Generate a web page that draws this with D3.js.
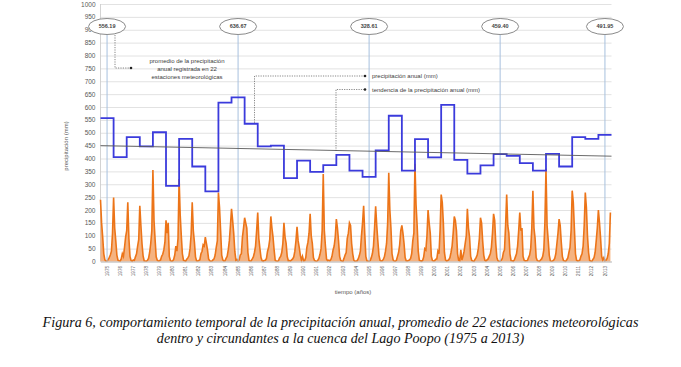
<!DOCTYPE html>
<html>
<head>
<meta charset="utf-8">
<script src="https://cdn.jsdelivr.net/npm/d3@7"></script>
<style>
    body { margin: 0; background: #fff; }
    svg { display: block; }
    .ytick text, .xtick text { fill: #595959; font-family: "Liberation Sans", Arial, sans-serif; }
    .note { fill: #404040; font-family: "Liberation Sans", Arial, sans-serif; font-size: 6px; }
</style>
</head>
<body>
<div id="chart"></div>
<script>
// years on the x axis
const years = d3.range(1975, 2014);

// annual precipitation (mm), average of 22 stations
const annual = [557, 405, 483, 447, 502, 294, 476, 369, 272, 617,
    637, 535, 447, 450, 324, 392, 348, 374, 414, 353,
    329, 431, 566, 353, 475, 404, 608, 395, 341, 373,
    417, 410, 382, 353, 418, 369, 483, 476, 492];

// trend line, value at start of 1975 and end of 2013
const trend = [450, 409];

// labelled years and their ellipse texts
const labelYears = [1975, 1985, 1995, 2005, 2013];
const labelTexts = ["556.19", "636.67", "328.61", "459.40", "491.95"];

// monthly precipitation (mm), Jan..Dec for each year
const monthly = [
    [240, 150, 95, 30, 6, 2, 3, 8, 15, 25, 40, 110],
    [248, 130, 80, 25, 5, 3, 2, 10, 30, 20, 55, 95],
    [120, 230, 90, 20, 4, 1, 6, 4, 18, 30, 60, 85],
    [216, 140, 70, 22, 3, 2, 1, 5, 12, 35, 70, 120],
    [355, 160, 85, 18, 5, 2, 3, 6, 20, 28, 45, 75],
    [160, 110, 150, 20, 4, 1, 2, 8, 25, 60, 40, 90],
    [320, 180, 100, 30, 5, 3, 1, 9, 14, 22, 50, 105],
    [230, 120, 75, 18, 3, 2, 4, 7, 30, 40, 65, 60],
    [95, 70, 45, 10, 3, 1, 2, 6, 10, 25, 55, 80],
    [268, 210, 120, 25, 6, 2, 3, 12, 20, 45, 80, 140],
    [205, 160, 110, 40, 5, 8, 2, 6, 25, 30, 95, 130],
    [170, 150, 130, 35, 4, 2, 3, 10, 18, 35, 60, 120],
    [190, 90, 50, 15, 3, 1, 4, 5, 12, 40, 55, 85],
    [175, 130, 95, 45, 5, 2, 1, 3, 14, 20, 35, 70],
    [150, 95, 70, 20, 3, 4, 2, 6, 10, 18, 40, 80],
    [135, 80, 55, 25, 6, 20, 3, 4, 15, 55, 75, 110],
    [185, 100, 70, 15, 4, 2, 1, 5, 12, 28, 50, 120],
    [340, 120, 60, 10, 3, 5, 2, 8, 20, 45, 60, 95],
    [165, 130, 80, 20, 4, 2, 1, 12, 25, 35, 90, 110],
    [150, 140, 70, 30, 5, 1, 2, 3, 10, 22, 40, 100],
    [150, 216, 110, 20, 3, 2, 1, 4, 15, 30, 60, 130],
    [214, 140, 80, 25, 5, 2, 3, 8, 18, 40, 70, 150],
    [345, 200, 130, 30, 6, 2, 1, 5, 20, 35, 65, 120],
    [140, 110, 70, 15, 3, 2, 4, 6, 12, 30, 80, 110],
    [380, 220, 140, 40, 5, 3, 1, 4, 18, 50, 45, 100],
    [200, 150, 110, 20, 4, 2, 3, 9, 10, 40, 30, 120],
    [260, 230, 150, 35, 6, 2, 4, 7, 15, 35, 60, 110],
    [175, 160, 120, 30, 5, 3, 45, 6, 20, 40, 70, 100],
    [205, 130, 95, 20, 4, 2, 1, 8, 15, 25, 50, 90],
    [170, 150, 80, 25, 5, 2, 6, 10, 20, 30, 55, 110],
    [185, 160, 70, 15, 3, 1, 2, 5, 12, 35, 45, 140],
    [260, 140, 110, 30, 4, 3, 1, 6, 18, 30, 60, 120],
    [190, 120, 130, 20, 5, 2, 3, 4, 15, 25, 50, 130],
    [275, 130, 90, 15, 4, 2, 1, 6, 10, 20, 45, 150],
    [360, 140, 85, 25, 3, 1, 2, 5, 12, 30, 70, 110],
    [165, 140, 75, 20, 4, 2, 1, 7, 14, 35, 55, 120],
    [275, 230, 130, 30, 5, 2, 3, 6, 20, 30, 60, 140],
    [268, 210, 100, 35, 4, 2, 1, 8, 15, 35, 80, 130],
    [200, 150, 90, 20, 6, 15, 3, 5, 12, 30, 70, 190]
];

const yTicks = d3.range(0, 1001, 50);

const W = 681, H = 367;
const margin = { left: 100.5, right: 611.5, top: 4, bottom: 261.5 };

const svg = d3.select("#chart").append("svg")
    .attr("width", W)
    .attr("height", H);

const x = d3.scaleBand().domain(years).range([margin.left, margin.right]).padding(0);
const y = d3.scaleLinear().domain([0, 1000]).range([margin.bottom, margin.top]);
// continuous position inside the year band
const xt = (year, frac) => x(year) + frac * x.bandwidth();

// grid
svg.append("g")
    .attr("class", "ytick")
    .attr("transform", `translate(${margin.left},0)`)
    .call(d3.axisLeft(y).tickValues(yTicks).tickFormat(d3.format("d"))
        .tickSize(-(margin.right - margin.left)).tickPadding(5))
    .call(g => g.select(".domain").remove())
    .call(g => g.selectAll("line").attr("stroke", "#dadada").attr("stroke-width", 0.8))
    .call(g => g.selectAll("text").style("font-size", "6.5px"));

svg.append("line")
    .attr("x1", margin.left).attr("x2", margin.left)
    .attr("y1", margin.top).attr("y2", margin.bottom)
    .attr("stroke", "#c8c8c8").attr("stroke-width", 0.8);

// monthly series
let mpts = [];
monthly.forEach((row, i) => row.forEach((v, m) => mpts.push([xt(years[i], m / 12), v])));

svg.append("path")
    .datum(mpts)
    .attr("fill", "#f3a062")
    .attr("fill-opacity", 0.8)
    .attr("d", d3.area().x(d => d[0]).y0(y(0)).y1(d => y(d[1])));

svg.append("path")
    .datum(mpts)
    .attr("fill", "none")
    .attr("stroke", "#ec7418")
    .attr("stroke-width", 1.6)
    .attr("d", d3.line().x(d => d[0]).y(d => y(d[1])));

// x axis
svg.append("g")
    .attr("class", "xtick")
    .attr("transform", `translate(0,${margin.bottom})`)
    .call(d3.axisBottom(x).tickSize(0).tickPadding(0))
    .call(g => g.select(".domain").attr("stroke", "#bdbdbd"))
    .call(g => g.selectAll("text")
        .attr("transform", "rotate(-90)")
        .attr("text-anchor", "end")
        .attr("x", -4.5)
        .attr("y", 0)
        .attr("dy", "0.35em")
        .style("font-size", "4.6px"));

// labelled vertical lines
svg.selectAll(".vline")
    .data(labelYears)
    .enter().append("line")
    .attr("class", "vline")
    .attr("x1", d => xt(d, 0.5)).attr("x2", d => xt(d, 0.5))
    .attr("y1", 34).attr("y2", margin.bottom)
    .attr("stroke", "#a7c0de")
    .attr("stroke-width", 1);

// annual step line
let steps = [];
annual.forEach((v, i) => {
    steps.push([x(years[i]), v]);
    steps.push([x(years[i]) + x.bandwidth(), v]);
});
svg.append("path")
    .datum(steps)
    .attr("fill", "none")
    .attr("stroke", "#3b3bdc")
    .attr("stroke-width", 1.8)
    .attr("d", d3.line().x(d => d[0]).y(d => y(d[1])));

// trend
svg.append("line")
    .attr("x1", margin.left).attr("x2", margin.right)
    .attr("y1", y(trend[0])).attr("y2", y(trend[1]))
    .attr("stroke", "#5a5a5a")
    .attr("stroke-width", 0.9);

// ellipses
const ell = svg.selectAll(".ell")
    .data(labelYears)
    .enter().append("g")
    .attr("transform", d => `translate(${xt(d, 0.5)},26.5)`);
ell.append("ellipse")
    .attr("rx", 18.5).attr("ry", 8)
    .attr("fill", "#fff")
    .attr("stroke", "#8a8a8a")
    .attr("stroke-width", 1);
ell.append("text")
    .attr("text-anchor", "middle")
    .attr("dy", "0.35em")
    .style("font-family", "Liberation Sans, Arial, sans-serif")
    .style("font-size", "5.5px")
    .style("font-weight", "bold")
    .style("fill", "#444")
    .text((d, i) => labelTexts[i]);

// annotations with dotted leaders
function leader(pts) {
    svg.append("path")
        .attr("d", d3.line()(pts))
        .attr("fill", "none")
        .attr("stroke", "#555")
        .attr("stroke-width", 0.7)
        .attr("stroke-dasharray", "1.2,1.2");
    let end = pts[pts.length - 1];
    svg.append("circle").attr("cx", end[0]).attr("cy", end[1]).attr("r", 1.3).attr("fill", "#222");
}

leader([[115, 35], [115, 68], [131, 68]]);
svg.append("text").attr("class", "note").attr("text-anchor", "middle")
    .selectAll("tspan")
    .data(["promedio de la precipitación", "anual registrada en 22", "estaciones meteorológicas"])
    .enter().append("tspan")
    .attr("x", 187)
    .attr("y", (d, i) => 63 + i * 7.8)
    .text(d => d);

leader([[254.5, y(annual[11]) - 1], [254.5, 76], [365, 76]]);
svg.append("text").attr("class", "note").attr("x", 372).attr("y", 78).text("precipitación anual (mm)");

leader([[336, 151], [336, 89.5], [365, 89.5]]);
svg.append("text").attr("class", "note").attr("x", 372).attr("y", 91.5).text("tendencia de la precipitación anual (mm)");

// axis titles
svg.append("text")
    .attr("class", "note")
    .attr("text-anchor", "middle")
    .attr("transform", "translate(68,146) rotate(-90)")
    .style("fill", "#595959")
    .text("precipitación (mm)");

svg.append("text")
    .attr("class", "note")
    .attr("text-anchor", "middle")
    .attr("x", 353).attr("y", 294)
    .style("fill", "#595959")
    .text("tiempo (años)");

// caption
svg.append("text")
    .attr("text-anchor", "middle")
    .style("font-family", "Liberation Serif, Times New Roman, serif")
    .style("font-style", "italic")
    .style("font-size", "14.1px")
    .style("fill", "#111")
    .selectAll("tspan")
    .data(["Figura 6, comportamiento temporal de la precipitación anual, promedio de 22 estaciones meteorológicas",
        "dentro y circundantes a la cuenca del Lago Poopo (1975 a 2013)"])
    .enter().append("tspan")
    .attr("x", 340.5)
    .attr("y", (d, i) => 327 + i * 16)
    .text(d => d);
</script>
</body>
</html>
